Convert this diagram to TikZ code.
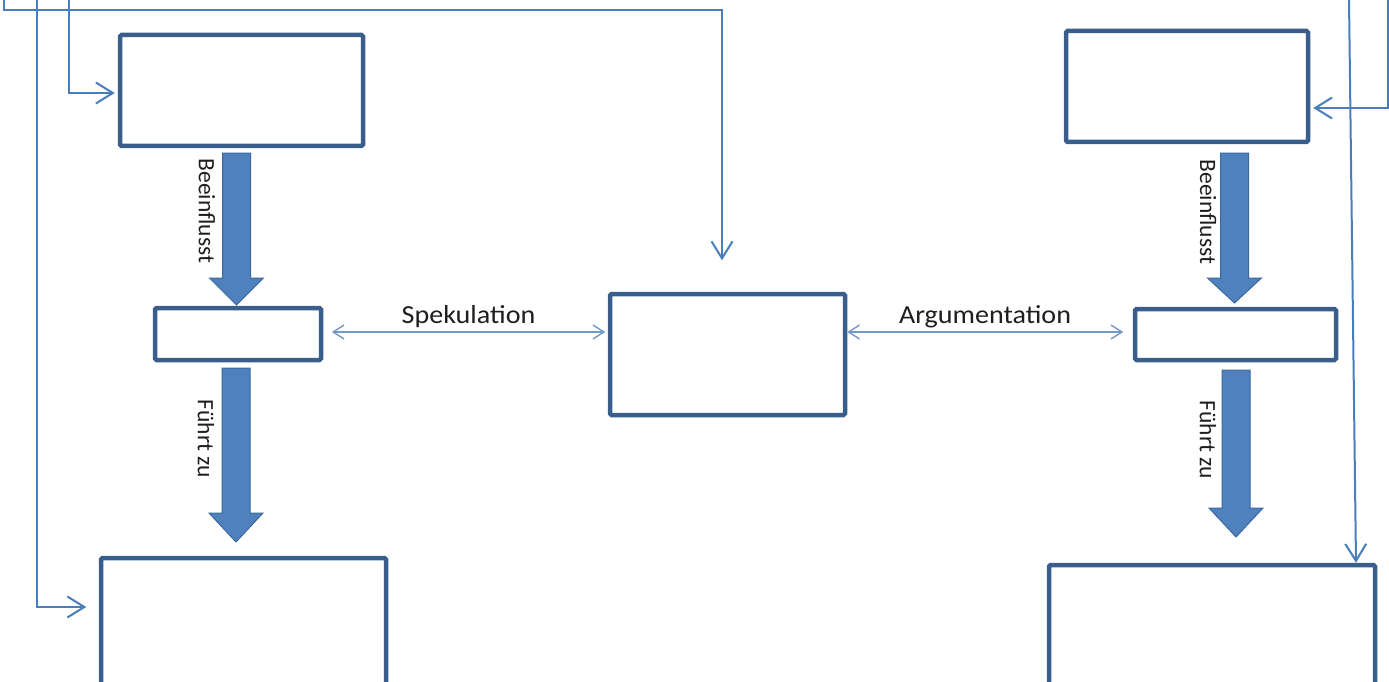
\documentclass[tikz,border=0pt]{standalone}
\usepackage{fontspec}
\setmainfont{Carlito}
\usetikzlibrary{arrows.meta}
\definecolor{boxc}{RGB}{58,94,140}
\definecolor{fillc}{RGB}{79,129,189}
\definecolor{edgec}{RGB}{60,104,160}
\definecolor{connc}{RGB}{74,126,187}
\definecolor{thinc}{RGB}{118,152,198}
\definecolor{txtc}{RGB}{30,30,30}
\newcommand\blockarr[4]{\filldraw[barrow] (#1-14,#2) -- (#1+14,#2) -- (#1+14,#3) -- (#1+27,#3) -- (#1,#4) -- (#1-27,#3) -- (#1-14,#3) -- cycle;}
\begin{document}
\begin{tikzpicture}[x=1pt,y=-1pt,
  box/.style={draw=boxc,line width=4.5pt,rounded corners=1.5pt,fill=white,inner sep=0pt},
  barrow/.style={fill=fillc,draw=edgec,line width=1pt,line join=miter},
  conn/.style={draw=connc,line width=2pt,-{Straight Barb[length=17pt,width=21pt]}},
  thinarr/.style={draw=thinc,line width=1.4pt,{Straight Barb[length=11pt,width=14pt]}-{Straight Barb[length=11pt,width=14pt]}},
  hlab/.style={font=\fontsize{26}{28}\selectfont,text=txtc,inner sep=0pt,anchor=base},
  vlab/.style={font=\fontsize{23.5}{26}\selectfont,text=txtc,inner sep=0pt,rotate=-90}]
\path[use as bounding box] (0,0) rectangle (1389,682);
\clip (0,0) rectangle (1389,682);

% boxes
\node[box,minimum width=243pt,minimum height=111pt] (tl) at (241.5,90.5) {};
\node[box,minimum width=242pt,minimum height=111pt] (tr) at (1187,86.5) {};
\node[box,minimum width=166pt,minimum height=52pt] (ml) at (238,334) {};
\node[box,minimum width=235pt,minimum height=121pt] (cb) at (727.5,354.5) {};
\node[box,minimum width=201pt,minimum height=51pt] (mr) at (1235.5,334.5) {};
\node[box,minimum width=285pt,minimum height=180pt] (bl) at (243.5,648) {};
\node[box,minimum width=326pt,minimum height=180pt] (br) at (1212,655) {};

% block arrows
\blockarr{236.5}{153}{278}{305}
\blockarr{236}{368}{513}{542}
\blockarr{1234.5}{153}{278}{303}
\blockarr{1236}{370}{508}{537}

% labels of block arrows
\node[vlab] (lb1) at (207,211) {Beeinflusst};
\node[vlab] (lf1) at (206,439) {Führt zu};
\node[vlab] (lb2) at (1208,212) {Beeinflusst};
\node[vlab] (lf2) at (1208,440) {Führt zu};

% connectors
\coordinate (s1) at (4,0);
\coordinate (k1) at (4,10);
\draw[conn,shorten >=31.5pt] (s1) -- (k1) -| ([xshift=-5.5pt]cb.north);

\coordinate (s2) at (37,0);
\coordinate (y2) at (0,607);
\draw[conn,shorten >=12.5pt] (s2) |- (bl.west |- y2);

\coordinate (s3) at (69,0);
\coordinate (y3) at (0,93);
\draw[conn,shorten >=3pt] (s3) |- (tl.west |- y3);

\coordinate (s4) at (1388,0);
\coordinate (y4) at (0,108);
\draw[conn,shorten >=3pt] (s4) |- (tr.east |- y4);

\coordinate (s5) at (1349,0);
\coordinate (x5) at (1356,0);
\draw[conn] (s5) -- (br.north -| x5);

% thin double arrows
\coordinate (y6) at (0,332);
\draw[thinarr,shorten <=8.5pt,shorten >=2.5pt] (ml.east |- y6) -- (cb.west |- y6);
\draw[thinarr,shorten >=9.5pt] (cb.east |- y6) -- (mr.west |- y6);

\node[hlab] (spek) at (468.5,323) {\scalebox{1.08}[1]{Spekulation}};
\node[hlab] (arg) at (985,323) {\scalebox{1.08}[1]{Argumentation}};
\end{tikzpicture}
\end{document}
